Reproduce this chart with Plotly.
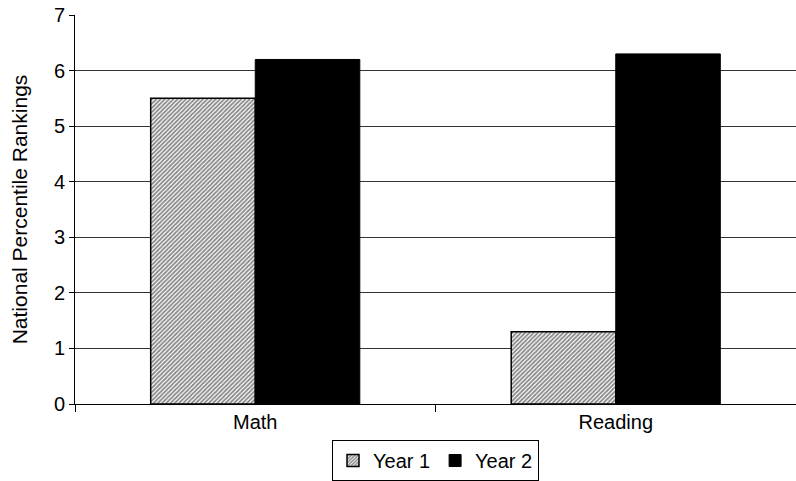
import plotly.graph_objects as go

categories = ["Math", "Reading"]
year1 = [5.5, 1.3]
year2 = [6.2, 6.3]
series_names = ["Year 1", "Year 2"]
y_ticks = [0, 1, 2, 3, 4, 5, 6, 7]

fig = go.Figure()
fig.add_trace(go.Bar(
    x=categories, y=year1, name=series_names[0],
    marker=dict(color="white", line=dict(color="black", width=1.5),
                pattern=dict(shape="/", size=3, solidity=0.6, fgcolor="#111111", bgcolor="white")),
))
fig.add_trace(go.Bar(
    x=categories, y=year2, name=series_names[1],
    marker=dict(color="black", line=dict(color="black", width=1)),
))

fig.update_layout(
    width=796, height=481,
    margin=dict(l=75, r=0, t=15, b=77, autoexpand=False),
    paper_bgcolor="white", plot_bgcolor="white",
    font=dict(family="Liberation Sans, Arial, sans-serif", size=20, color="black"),
    barmode="group", bargap=0.42, bargroupgap=0,
    showlegend=True,
    legend=dict(orientation="h", x=0.5, xanchor="center", xref="paper",
                y=0.0, yanchor="bottom", yref="container",
                bordercolor="black", borderwidth=1, font=dict(size=20),
                itemwidth=30, tracegroupgap=0),
    xaxis=dict(showline=True, linecolor="black", linewidth=1, ticks="outside",
               tickson="boundaries", ticklen=7, tickcolor="black",
               showgrid=False, tickfont=dict(size=20), automargin=False),
    yaxis=dict(range=[0, 7], tickvals=y_ticks, showline=True, linecolor="black",
               linewidth=1, ticks="outside", ticklen=5, tickcolor="black",
               showgrid=True, gridcolor="#333333", gridwidth=1, zeroline=False,
               automargin=False,
               title=dict(text="National Percentile Rankings", font=dict(size=21), standoff=20),
               tickfont=dict(size=20)),
)

fig.write_html("out.html")
